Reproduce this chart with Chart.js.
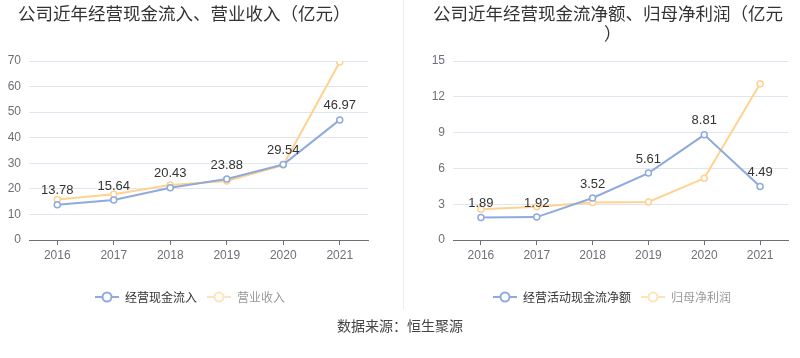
<!DOCTYPE html>
<html>
<head>
<meta charset="utf-8">
<script src="https://cdn.jsdelivr.net/npm/chart.js@4"></script>
<style>
  body { margin: 0; background: #fff; font-family: "Noto Sans CJK SC", sans-serif; }
  #wrap { position: relative; width: 800px; height: 358px; overflow: hidden; }
  .box { position: absolute; top: 0; width: 400px; height: 358px; }
  .title { position: absolute; font-size: 17.5px; color: #333; white-space: nowrap; line-height: 22px; }
  #divider { position: absolute; left: 403px; top: 0; width: 1px; height: 310px; background: #eee; }
  #source { position: absolute; left: 0; width: 800px; top: 315px; text-align: center; font-size: 14px; color: #444; }
</style>
</head>
<body>
<div id="wrap">
  <div class="box" style="left:0"><canvas id="leftChart" width="400" height="358"></canvas></div>
  <div class="box" style="left:400px"><canvas id="rightChart" width="400" height="358"></canvas></div>
  <div id="divider"></div>
  <div class="title" style="left:18px; top:2px">公司近年经营现金流入、营业收入（亿元）</div>
  <div class="title" style="left:433px; top:2px">公司近年经营现金流净额、归母净利润（亿元</div>
  <div class="title" style="left:604px; top:22px">）</div>
  <div id="source">数据来源：恒生聚源</div>
</div>
<script>
// years on the x axis
var years = ['2016', '2017', '2018', '2019', '2020', '2021'];

// left chart
var cashInflow = [13.78, 15.64, 20.43, 23.88, 29.54, 46.97];
var revenue = [15.8, 17.9, 21.5, 23.1, 29.3, 69.6];

// right chart
var netCashFlow = [1.89, 1.92, 3.52, 5.61, 8.81, 4.49];
var netProfit = [2.58, 2.78, 3.14, 3.19, 5.17, 13.1];

var blue = '#8FAADC';
var orange = '#FFD28F';

// legend icon: short line with a hollow circle in the middle
function legendIcon(color) {
    var c = document.createElement('canvas');
    c.width = 24; c.height = 12;
    var g = c.getContext('2d');
    g.strokeStyle = color;
    g.lineWidth = 2;
    g.beginPath(); g.moveTo(0, 6); g.lineTo(24, 6); g.stroke();
    g.fillStyle = '#fff';
    g.beginPath(); g.arc(12, 6, 4.5, 0, Math.PI * 2); g.fill(); g.stroke();
    return c;
}

// values above the first series
var valueLabels = {
    id: 'valueLabels',
    afterDatasetsDraw: function (chart) {
        var ctx = chart.ctx;
        var meta = chart.getDatasetMeta(0);
        var values = chart.data.datasets[0].data;
        ctx.save();
        ctx.font = '13px "Liberation Sans", sans-serif';
        ctx.fillStyle = '#333';
        ctx.textAlign = 'center';
        ctx.textBaseline = 'middle';
        meta.data.forEach(function (pt, i) {
            ctx.fillText(values[i].toFixed(2), pt.x, pt.y - 14);
        });
        ctx.restore();
    }
};

// nudge the legend sideways
function legendShift(dx) {
    return {
        id: 'legendShift',
        afterLayout: function (chart) {
            chart.legend.left += dx;
            chart.legend.right += dx;
        }
    };
}

function makeChart(id, names, first, second, yMax, yStep, yWidth, padRight, shift) {
    var ctx = document.getElementById(id).getContext('2d');
    return new Chart(ctx, {
        type: 'line',
        data: {
            labels: years,
            datasets: [{
                label: names[0],
                data: first,
                borderColor: blue,
                backgroundColor: '#fff',
                borderWidth: 2,
                pointRadius: 3,
                pointBorderWidth: 1.5,
                tension: 0
            }, {
                label: names[1],
                data: second,
                borderColor: orange,
                backgroundColor: '#fff',
                borderWidth: 2,
                pointRadius: 3,
                pointBorderWidth: 1.5,
                tension: 0
            }]
        },
        options: {
            responsive: false,
            animation: false,
            layout: { padding: { top: 61, right: padRight, bottom: 45, left: 0 } },
            plugins: {
                tooltip: { enabled: false },
                legend: {
                    position: 'bottom',
                    labels: {
                        usePointStyle: true,
                        pointStyleWidth: 24,
                        padding: 10,
                        font: { size: 12, family: '"Noto Sans CJK SC", sans-serif' },
                        generateLabels: function () {
                            return [
                                { text: names[0], pointStyle: legendIcon(blue), fontColor: '#333', datasetIndex: 0, lineWidth: 0, strokeStyle: 'rgba(0,0,0,0)' },
                                { text: names[1], pointStyle: legendIcon('#FFE3BC'), fontColor: '#999', datasetIndex: 1, lineWidth: 0, strokeStyle: 'rgba(0,0,0,0)' }
                            ];
                        }
                    }
                }
            },
            scales: {
                x: {
                    offset: true,
                    afterFit: function (scale) { scale.height = 41; },
                    grid: { display: true, drawOnChartArea: false, drawTicks: true, tickLength: 5, offset: false, color: '#6E7079' },
                    border: { color: '#6E7079' },
                    ticks: { color: '#6E7079', padding: 3, font: { size: 12, family: '"Liberation Sans", sans-serif' } }
                },
                y: {
                    min: 0,
                    max: yMax,
                    afterFit: function (scale) { scale.width = yWidth; },
                    grid: { color: '#E0E6F1', drawTicks: false },
                    border: { display: false },
                    ticks: { stepSize: yStep, color: '#6E7079', padding: 8, font: { size: 12, family: '"Liberation Sans", sans-serif' } }
                }
            }
        },
        plugins: [valueLabels, legendShift(shift)]
    });
}

makeChart('leftChart', ['经营现金流入', '营业收入'], cashInflow, revenue, 70, 10, 29, 32, 6);
makeChart('rightChart', ['经营活动现金流净额', '归母净利润'], netCashFlow, netProfit, 15, 3, 53, 12, 18);
</script>
</body>
</html>
